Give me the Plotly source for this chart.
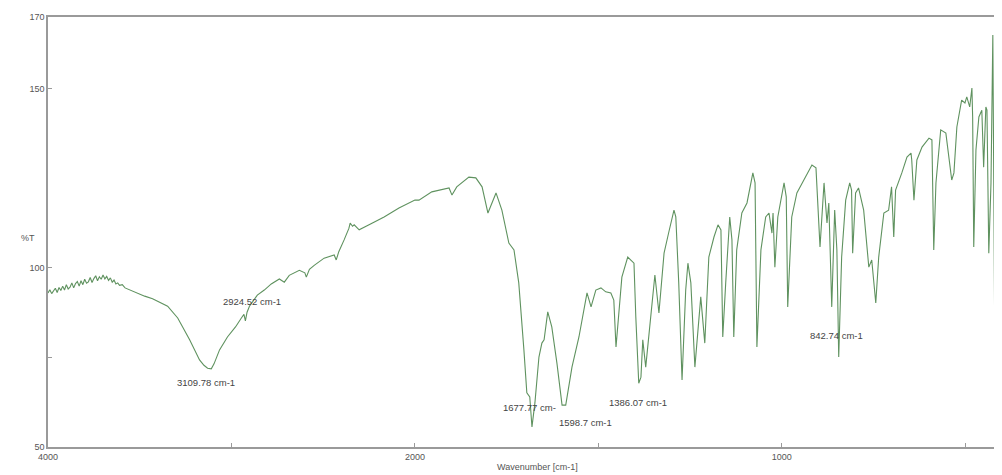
import plotly.graph_objects as go

# Spectrum data (wavenumber cm-1, %T)
wavenumber = [
    4000, 3990, 3980, 3970, 3960, 3950, 3940, 3930, 3920, 3910, 3900, 3890, 3880, 3870,
    3860, 3850, 3840, 3830, 3820, 3810, 3800, 3790, 3780, 3770, 3760, 3750, 3740, 3730,
    3720, 3710, 3700, 3690, 3680, 3670, 3660, 3650, 3640, 3630, 3620, 3610, 3595,
    3580, 3554, 3520, 3473, 3430, 3391, 3348, 3293, 3228, 3174, 3150, 3130, 3110, 3095,
    3065, 3022, 2978, 2946, 2932, 2924, 2915, 2902, 2859, 2821, 2783, 2739, 2712, 2685,
    2630, 2600, 2592, 2575, 2549, 2495, 2440, 2429, 2415, 2386, 2360, 2353, 2340, 2331,
    2304, 2250, 2168, 2087, 2000,
    1989, 1954, 1907, 1899, 1886, 1853, 1834, 1817, 1801, 1779, 1763, 1744, 1730, 1717,
    1703, 1695, 1687, 1681, 1673, 1662, 1654, 1648, 1638, 1627, 1613, 1599, 1589, 1572,
    1553, 1531, 1520, 1507, 1493, 1480, 1466, 1458, 1452, 1444, 1436, 1420, 1403, 1398,
    1390, 1384, 1379, 1371, 1354, 1346, 1335, 1321, 1308, 1294, 1289, 1281, 1272, 1262,
    1256, 1248, 1237, 1221, 1210, 1199, 1185, 1174, 1166, 1161, 1153, 1142, 1136, 1131,
    1123, 1109, 1095, 1079, 1073, 1068, 1057, 1044, 1035, 1027, 1024, 1019, 1011, 1003,
    994, 988, 984, 973, 959, 940, 918, 907, 896, 885, 877, 872, 864, 856, 850, 845, 837,
    826, 815, 810, 807, 799, 791, 777, 763, 755, 744, 736, 722, 709, 701, 695, 690, 673,
    659, 648, 646, 640, 632, 618, 599, 591, 586, 580, 567, 553, 545, 537, 531, 523, 510,
    501, 496, 488, 482, 480, 477, 471, 463, 455, 450, 444, 441, 436, 430, 425, 420, 414,
    409, 404, 400,
]
transmittance = [
    93.0, 93.9, 92.8, 93.6, 94.3, 93.1, 94.5, 93.7, 94.9, 93.8, 95.3, 94.1, 94.6, 95.8,
    94.4, 95.6, 96.2, 94.9, 96.4, 95.3, 96.8, 95.7, 96.1, 97.3, 95.9, 97.0, 97.8, 96.4,
    97.5, 96.8, 98.0, 96.9, 97.6, 96.5, 97.2, 96.0, 96.6, 95.5, 95.8, 95.1, 95.3,
    94.4, 93.8, 93.0, 92.1, 91.4, 90.5, 89.3, 86.0, 79.9, 74.3, 72.8, 72.0, 71.8, 73.2,
    77.1, 80.7, 83.5, 86.0, 87.0, 85.2, 87.6, 89.3, 92.4, 93.8, 95.5, 96.9, 96.0, 97.9,
    99.3, 98.6, 97.4, 99.6, 100.7, 102.7, 103.6, 102.2, 104.5, 107.8, 111.0, 112.5, 111.6, 112.0,
    110.6, 112.0, 114.2, 116.7, 118.9,
    118.9, 121.2, 122.3, 120.3, 122.6, 125.3, 125.1, 122.6, 115.3, 120.9, 116.1, 106.9, 105.0, 95.8,
    77.1, 65.1, 64.0, 55.6, 62.3, 75.1, 79.0, 79.9, 87.7, 83.5, 73.4, 61.7, 61.7, 72.3,
    80.7, 93.0, 89.1, 93.8, 94.4, 93.3, 93.0, 91.0, 77.9, 88.2, 97.4, 103.0, 101.3, 86.3,
    67.8, 69.5, 79.9, 72.3, 90.2, 98.0, 87.4, 104.1, 110.0, 116.1, 114.2, 95.8, 68.7, 93.8,
    101.3, 95.8, 72.3, 91.9, 79.0, 103.0, 108.6, 112.0, 110.6, 80.7, 95.8, 114.2, 107.8, 80.7,
    105.0, 115.3, 118.1, 126.5, 123.7, 77.9, 105.0, 114.2, 115.3, 109.7, 115.3, 100.2, 114.2, 118.9,
    123.7, 119.8, 89.1, 114.2, 120.9, 124.5, 128.7, 127.9, 105.8, 123.7, 112.5, 118.1, 89.1, 116.1, 105.0, 75.1, 103.0,
    118.9, 123.7, 121.7, 104.1, 120.9, 122.3, 116.1, 100.2, 102.2, 90.2, 103.0, 115.3, 116.1, 122.6, 108.6, 121.7, 126.5,
    130.9, 132.0, 130.1, 118.9, 130.1, 133.7, 136.2, 135.7, 105.0, 123.7, 138.5, 137.6, 130.1, 124.5, 126.5, 139.3, 146.8,
    146.0, 147.7, 144.9, 150.2, 142.1, 105.8, 132.9, 142.1, 144.0, 128.1, 144.9, 144.0, 104.1, 123.7, 165.0, 84.6, 139.3,
    120.9, 95.0, 86.0,
]

# Peak labels
peak_labels = ["3109.78 cm-1", "2924.52 cm-1", "1677.77 cm-", "1598.7 cm-1", "1386.07 cm-1", "842.74 cm-1"]
label_wn = [3141, 2886, 1689, 1534, 1392, 850]
label_t = [67.9, 90.5, 60.9, 56.7, 62.3, 81.2]

x_major = [4000, 2000, 1000, 400]
x_minor = [3000, 1500, 500]
y_ticks = [170, 150, 100, 75, 50]
y_text = ["170", "150", "100", "", "50"]


def xmap(w):
    # split-scale IR axis: 4000-2000 compressed by half
    return (4000 - w) / 2.0 if w >= 2000 else 1000 + (2000 - w)


xs = [xmap(w) for w in wavenumber]

fig = go.Figure()
fig.add_trace(go.Scatter(x=xs, y=transmittance, mode="lines",
                         line=dict(color="#5f925f", width=1.1), hoverinfo="skip"))

for txt, w, t in zip(peak_labels, label_wn, label_t):
    fig.add_annotation(x=xmap(w), y=t, text=txt, showarrow=False,
                       font=dict(family="Arial, Liberation Sans", size=9.5, color="#444"))

tickvals = [xmap(w) for w in x_major + x_minor]
ticktext = [str(w) for w in x_major] + ["" for _ in x_minor]

# page body adds an 8px offset; the figure is sized to compensate
fig.update_layout(
    width=994, height=467,
    margin=dict(l=40, r=0, t=9, b=28),
    plot_bgcolor="white", paper_bgcolor="white",
    showlegend=False,
    font=dict(family="Arial, Liberation Sans", size=9, color="#555"),
)
fig.update_xaxes(range=[0, 2600], tickvals=tickvals, ticktext=ticktext, automargin=False,
                 showgrid=False, zeroline=False, showline=True, linecolor="#9a9a9a",
                 linewidth=1.5, mirror=True, ticks="inside", ticklen=4, tickcolor="#9a9a9a",
                 tickfont=dict(size=9, color="#555"))
fig.update_yaxes(range=[50, 170], tickvals=y_ticks, ticktext=y_text, automargin=False,
                 showgrid=False, zeroline=False, showline=True, linecolor="#9a9a9a",
                 linewidth=1.5, ticks="inside", ticklen=4, tickcolor="#9a9a9a",
                 tickfont=dict(size=9, color="#555"))

fig.add_annotation(x=-0.03, y=(447 - 238) / 430.0, xref="paper", yref="paper", text="%T",
                   showarrow=False, font=dict(size=9, color="#555"))
fig.add_annotation(x=0.513, y=-20 / 430.0, xref="paper", yref="paper", text="Wavenumber [cm-1]",
                   showarrow=False, yanchor="middle", font=dict(size=9, color="#555"))

fig.write_html("out.html")
